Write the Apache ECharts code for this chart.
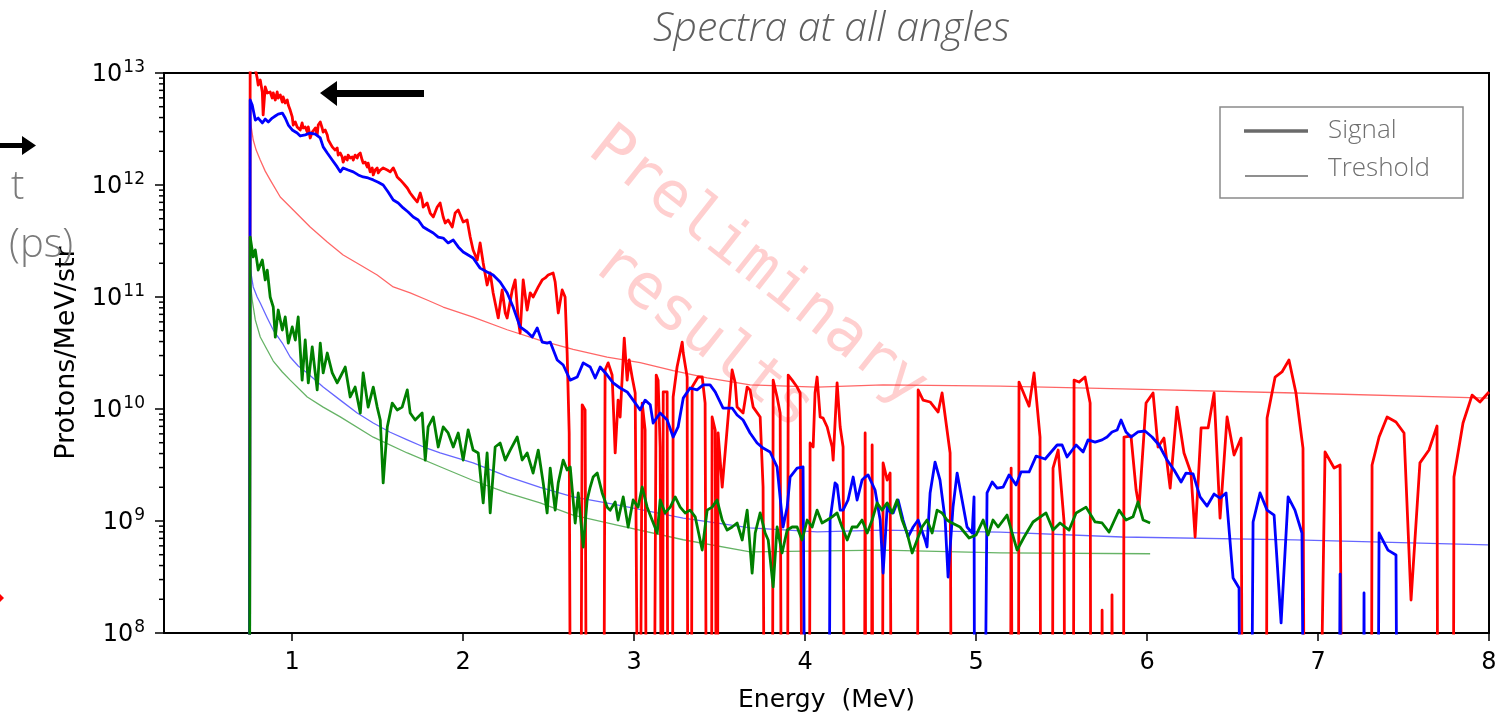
<!DOCTYPE html>
<html>
<head>
<meta charset="utf-8">
<script src="https://cdn.jsdelivr.net/npm/echarts@6/dist/echarts.min.js"></script>
<style>
  html, body { margin: 0; padding: 0; background: #fff; }
  #chart { width: 1498px; height: 716px; }
</style>
</head>
<body>
<div id="chart"></div>
<script>
// Empty bins sit far below the axis floor, so the trace drops out of the frame there.
const FLOOR = 1e5;

const xTickValues = [1, 2, 3, 4, 5, 6, 7, 8];
const yMin = 1e8, yMax = 1e13;
const yMinorMantissas = [2, 3, 4, 5, 6, 7, 8, 9];

// Energy (MeV), protons/MeV/str
const redSignal = [
  [0.749,FLOOR],[0.754,1.5e13],[0.778,1.2e13],[0.795,9.03e12],[0.801,7.81e12],[0.813,8.66e12],[0.825,6.77e12],[0.830,4.22e12],
  [0.842,7.5e12],[0.854,6.63e12],[0.871,6.77e12],[0.883,5.98e12],[0.889,6.63e12],[0.901,5.74e12],[0.912,6.77e12],[0.918,5.98e12],
  [0.930,6.36e12],[0.942,5.5e12],[0.947,6.11e12],[0.959,5.4e12],[0.971,5.74e12],[0.977,5.18e12],[0.988,4.67e12],[1.0,4.05e12],
  [1.006,3.43e12],[1.018,3.65e12],[1.029,3.3e12],[1.035,3.43e12],[1.047,3.1e12],[1.058,3.58e12],[1.064,3.23e12],[1.076,3.3e12],
  [1.088,2.97e12],[1.094,3.3e12],[1.105,2.63e12],[1.117,2.97e12],[1.123,2.91e12],[1.135,3.23e12],[1.146,2.8e12],[1.152,3.43e12],
  [1.164,3.65e12],[1.175,3.23e12],[1.181,2.97e12],[1.193,3.1e12],[1.205,2.8e12],[1.211,2.52e12],[1.222,2.42e12],[1.234,2.19e12],
  [1.240,2.28e12],[1.251,2.05e12],[1.263,2.14e12],[1.269,1.85e12],[1.281,1.93e12],[1.292,1.78e12],[1.298,1.6e12],[1.310,1.78e12],
  [1.322,1.67e12],[1.327,1.85e12],[1.339,1.74e12],[1.351,1.78e12],[1.357,1.67e12],[1.368,1.85e12],[1.380,1.74e12],[1.386,1.85e12],
  [1.398,1.93e12],[1.409,1.67e12],[1.415,1.57e12],[1.427,1.6e12],[1.439,1.45e12],[1.444,1.57e12],[1.456,1.31e12],[1.468,1.42e12],
  [1.474,1.23e12],[1.485,1.36e12],[1.497,1.42e12],[1.503,1.28e12],[1.515,1.36e12],[1.532,1.42e12],[1.556,1.36e12],[1.573,1.31e12],
  [1.591,1.42e12],[1.602,1.31e12],[1.614,1.18e12],[1.632,1.11e12],[1.649,1.04e12],[1.673,9.4e11],[1.690,8.48e11],[1.708,7.81e11],
  [1.731,7.05e11],[1.749,8.48e11],[1.760,7.35e11],[1.766,6.36e11],[1.789,6.91e11],[1.807,5.62e11],[1.825,5.18e11],[1.848,6.36e11],
  [1.865,6.91e11],[1.883,5.18e11],[1.895,4.58e11],[1.912,4.87e11],[1.936,4.22e11],[1.953,5.62e11],[1.971,5.98e11],[2.0,4.67e11],
  [2.023,4.87e11],[2.041,3.43e11],[2.058,2.63e11],[2.082,2.14e11],[2.099,3.04e11],[2.117,2.01e11],[2.140,1.28e11],[2.158,1.64e11],
  [2.175,1.09e11],[2.205,6.5e10],[2.228,1.155e11],[2.246,7.2e10],[2.257,6.5e10],[2.287,1.155e11],[2.304,1.42e11],[2.322,6.24e10],
  [2.333,4.77e10],[2.351,1.42e11],[2.374,7.65e10],[2.392,1.09e11],[2.409,1.0e11],[2.439,1.23e11],[2.462,1.42e11],[2.480,1.48e11],
  [2.497,1.57e11],[2.526,1.64e11],[2.538,1.36e11],[2.556,7.2e10],[2.579,1.155e11],[2.596,1.0e11],[2.608,3.16e10],[2.620,6.11e9],
  [2.632,FLOOR],[2.684,FLOOR],[2.696,1.09e10],[2.713,9.8e9],[2.725,FLOOR],[2.819,FLOOR],[2.830,2.23e10],[2.848,2.58e10],
  [2.871,2.01e10],[2.889,4.05e9],[2.906,1.2e10],[2.918,8.48e9],[2.942,4.3e10],[2.959,1.81e10],[2.971,2.74e10],[2.988,1.93e10],
  [3.006,1.39e10],[3.029,FLOOR],[3.047,1.13e10],[3.064,6.5e9],[3.076,FLOOR],[3.111,FLOOR],[3.129,2.01e10],[3.140,1.81e10],
  [3.152,4.58e9],[3.164,FLOOR],[3.170,1.42e10],[3.193,1.42e10],[3.199,FLOOR],[3.222,FLOOR],[3.228,1.28e10],[3.251,2.37e10],
  [3.281,3.96e10],[3.287,3.16e10],[3.310,1.93e10],[3.316,FLOOR],[3.333,FLOOR],[3.339,1.57e10],[3.374,1.93e10],[3.398,1.93e10],
  [3.415,1.13e10],[3.427,FLOOR],[3.450,FLOOR],[3.456,8.48e9],[3.474,6.5e9],[3.485,FLOOR],[3.491,6.11e9],[3.515,2.01e9],
  [3.573,2.23e10],[3.591,1.71e10],[3.602,1.04e10],[3.637,9.2e9],[3.661,1.57e10],[3.678,1.48e10],[3.696,1.04e10],[3.737,8.48e9],
  [3.754,2.01e9],[3.766,FLOOR],[3.807,FLOOR],[3.813,1.81e10],[3.836,1.28e10],[3.854,9.2e9],[3.865,FLOOR],[3.895,FLOOR],
  [3.901,2.01e10],[3.924,1.81e10],[3.953,1.57e10],[3.971,1.39e10],[3.988,FLOOR],[4.023,FLOOR],[4.029,4.97e9],[4.047,4.58e9],
  [4.058,1.39e10],[4.070,1.93e10],[4.088,8.48e9],[4.105,8.3e9],[4.129,6.91e9],[4.158,4.58e9],[4.164,3.5e9],[4.187,1.71e10],
  [4.205,6.91e9],[4.222,4.58e9],[4.234,FLOOR],[4.345,FLOOR],[4.351,6.11e9],[4.357,FLOOR],[4.386,FLOOR],[4.392,4.77e9],
  [4.398,FLOOR],[4.450,FLOOR],[4.456,3.3e9],[4.480,2.32e9],[4.497,2.68e9],[4.509,FLOOR],[4.655,FLOOR],[4.661,1.48e10],
  [4.690,1.2e10],[4.731,1.155e10],[4.778,9.4e9],[4.801,1.39e10],[4.848,4.05e9],[4.860,FLOOR],[5.199,FLOOR],[5.205,2.97e9],
  [5.216,FLOOR],[5.246,FLOOR],[5.251,1.74e10],[5.310,1.06e10],[5.339,2.1e10],[5.374,5.62e9],[5.380,FLOOR],[5.444,FLOOR],
  [5.450,2.97e9],[5.480,4.3e9],[5.515,9.6e8],[5.520,FLOOR],[5.567,FLOOR],[5.573,1.81e10],[5.602,1.74e10],[5.637,1.93e10],
  [5.667,1.13e10],[5.673,FLOOR],[5.731,FLOOR],[5.737,1.6e8],[5.743,FLOOR],[5.789,FLOOR],[5.795,2.19e8],[5.801,FLOOR],
  [5.860,FLOOR],[5.865,5.62e9],[5.906,5.74e9],[5.936,1.89e9],[5.953,1.33e9],[5.994,1.13e10],[6.035,1.39e10],[6.064,4.58e9],
  [6.099,5.5e9],[6.135,1.97e9],[6.175,1.04e10],[6.216,4.05e9],[6.257,2.68e9],[6.281,7.2e8],[6.316,6.77e9],[6.357,6.77e9],
  [6.392,1.39e10],[6.427,1.06e9],[6.468,8.48e9],[6.509,3.88e9],[6.550,5.5e9],[6.561,FLOOR],[6.696,FLOOR],[6.702,8.3e9],
  [6.749,1.93e10],[6.789,2.14e10],[6.830,2.74e10],[6.871,1.39e10],[6.912,4.48e9],[6.924,FLOOR],[6.994,FLOOR],[7.041,4.13e9],
  [7.094,2.97e9],[7.129,3.16e9],[7.146,FLOOR],[7.310,FLOOR],[7.316,3.16e9],[7.357,5.62e9],[7.404,8.48e9],[7.456,7.65e9],
  [7.503,6.11e9],[7.544,1.97e8],[7.596,3.3e9],[7.649,4.3e9],[7.696,7.05e9],[7.702,FLOOR],[7.789,FLOOR],[7.795,2.47e9],
  [7.848,7.5e9],[7.901,1.33e10],[7.947,1.155e10],[8.0,1.42e10]
];

const blueSignal = [
  [0.749,FLOOR],[0.754,5.74e12],[0.766,5.18e12],[0.784,3.8e12],[0.801,3.96e12],[0.825,3.58e12],[0.842,3.88e12],[0.860,3.65e12],
  [0.883,3.96e12],[0.901,4.13e12],[0.918,4.3e12],[0.942,4.39e12],[0.959,3.96e12],[0.977,3.43e12],[1.0,3.1e12],[1.029,2.91e12],
  [1.047,2.74e12],[1.076,2.8e12],[1.105,2.91e12],[1.135,2.85e12],[1.164,2.63e12],[1.181,2.19e12],[1.205,1.93e12],[1.234,1.67e12],
  [1.263,1.45e12],[1.281,1.31e12],[1.298,1.42e12],[1.327,1.36e12],[1.357,1.31e12],[1.386,1.23e12],[1.415,1.18e12],[1.444,1.155e12],
  [1.474,1.11e12],[1.503,1.06e12],[1.532,1.0e12],[1.561,8.66e11],[1.591,7.35e11],[1.620,6.91e11],[1.649,6.24e11],[1.678,5.74e11],
  [1.708,5.18e11],[1.737,4.87e11],[1.766,4.22e11],[1.795,3.96e11],[1.825,3.73e11],[1.854,3.43e11],[1.883,3.36e11],[1.912,3.04e11],
  [1.942,3.23e11],[1.971,2.8e11],[2.0,2.52e11],[2.029,2.37e11],[2.058,2.23e11],[2.099,1.81e11],[2.140,1.67e11],[2.175,1.57e11],
  [2.216,1.36e11],[2.257,1.09e11],[2.292,8.14e10],[2.333,5.4e10],[2.374,4.87e10],[2.404,4.39e10],[2.433,5.3e10],[2.462,3.96e10],
  [2.491,3.88e10],[2.509,3.96e10],[2.550,2.74e10],[2.585,2.47e10],[2.626,1.81e10],[2.667,1.93e10],[2.702,2.58e10],[2.743,2.37e10],
  [2.772,1.89e10],[2.801,2.37e10],[2.842,2.01e10],[2.877,1.71e10],[2.918,1.54e10],[2.959,1.42e10],[2.994,1.2e10],[3.035,9.8e9],
  [3.064,1.2e10],[3.094,1.09e10],[3.111,7.5e9],[3.152,9.2e9],[3.193,7.97e9],[3.228,5.62e9],[3.257,6.91e9],[3.287,1.25e10],
  [3.327,1.54e10],[3.368,1.48e10],[3.404,1.64e10],[3.444,1.64e10],[3.474,1.42e10],[3.520,1.02e10],[3.573,1.02e10],[3.602,8.84e9],
  [3.637,7.97e9],[3.678,6.11e9],[3.719,4.97e9],[3.754,4.48e9],[3.795,4.13e9],[3.836,3.04e9],[3.871,8.84e8],[3.895,1.33e9],
  [3.912,2.47e9],[3.953,2.97e9],[3.988,3.04e9],[4.006,FLOOR],[4.135,FLOOR],[4.146,1.02e9],[4.175,2.19e9],[4.187,2.1e9],
  [4.205,1.25e9],[4.222,1.25e9],[4.251,1.54e9],[4.281,2.47e9],[4.304,1.54e9],[4.333,2.32e9],[4.351,2.47e9],[4.368,2.58e9],
  [4.409,1.89e9],[4.439,1.02e9],[4.456,3.43e8],[4.480,1.33e9],[4.497,1.2e9],[4.515,1.18e9],[4.544,1.54e9],[4.573,1.02e9],
  [4.602,7.2e8],[4.632,8.84e8],[4.661,1.02e9],[4.702,6.77e8],[4.713,5.86e8],[4.731,1.78e9],[4.760,3.36e9],[4.789,2.32e9],
  [4.819,1.02e9],[4.836,3.16e8],[4.865,1.33e9],[4.889,2.68e9],[4.918,1.54e9],[4.947,8.84e8],[4.977,7.81e8],[4.988,1.64e9],
  [4.994,FLOOR],[5.041,FLOOR],[5.064,1.78e9],[5.094,2.23e9],[5.123,1.97e9],[5.158,2.01e9],[5.193,2.58e9],[5.234,2.1e9],
  [5.263,2.74e9],[5.310,2.74e9],[5.351,3.8e9],[5.404,3.58e9],[5.474,4.77e9],[5.503,4.77e9],[5.532,3.73e9],[5.585,4.77e9],
  [5.626,4.13e9],[5.655,5.3e9],[5.696,5.07e9],[5.737,5.3e9],[5.766,5.62e9],[5.795,6.24e9],[5.825,6.5e9],[5.848,7.97e9],
  [5.877,6.24e9],[5.906,5.62e9],[5.947,6.24e9],[5.988,6.36e9],[6.029,5.62e9],[6.070,4.77e9],[6.117,3.5e9],[6.158,2.85e9],
  [6.199,2.23e9],[6.228,2.68e9],[6.269,2.63e9],[6.310,1.64e9],[6.351,1.36e9],[6.392,1.74e9],[6.427,1.6e9],[6.462,1.78e9],
  [6.503,3.1e8],[6.538,2.52e8],[6.550,FLOOR],[6.602,FLOOR],[6.620,9.8e8],[6.661,1.78e9],[6.702,1.25e9],[6.743,1.13e9],
  [6.784,1.23e8],[6.825,1.64e9],[6.865,1.25e9],[6.906,7.81e8],[6.924,FLOOR],[7.117,FLOOR],[7.129,3.36e8],[7.140,FLOOR],
  [7.263,FLOOR],[7.269,2.28e8],[7.275,FLOOR],[7.345,FLOOR],[7.357,7.81e8],[7.409,5.5e8],[7.456,4.97e8],[7.468,FLOOR],
  [7.994,FLOOR]
];

const greenSignal = [
  [0.749,FLOOR],[0.754,3.43e11],[0.772,2.28e11],[0.784,2.63e11],[0.801,1.74e11],[0.825,2.14e11],[0.842,1.42e11],[0.854,1.74e11],
  [0.871,1.0e11],[0.889,8.14e10],[0.901,4.39e10],[0.918,7.65e10],[0.942,5.07e10],[0.959,6.63e10],[0.977,3.88e10],[1.0,5.4e10],
  [1.018,4.13e10],[1.035,6.63e10],[1.058,1.81e10],[1.076,4.13e10],[1.094,1.71e10],[1.117,3.58e10],[1.146,1.48e10],[1.164,3.88e10],
  [1.181,2.1e10],[1.205,3.16e10],[1.234,2.1e10],[1.263,1.71e10],[1.281,1.93e10],[1.310,2.37e10],[1.339,1.28e10],[1.368,1.57e10],
  [1.398,9.2e9],[1.415,2.1e10],[1.444,1.04e10],[1.474,1.57e10],[1.497,1.04e10],[1.515,7.97e9],[1.532,2.19e9],[1.556,6.91e9],
  [1.585,1.13e10],[1.614,9.8e9],[1.643,1.04e10],[1.673,1.48e10],[1.690,9.2e9],[1.719,7.97e9],[1.760,9.2e9],[1.778,3.5e9],
  [1.795,6.91e9],[1.825,8.48e9],[1.854,4.58e9],[1.883,6.91e9],[1.912,6.11e9],[1.942,4.58e9],[1.971,6.11e9],[2.0,3.5e9],
  [2.029,6.5e9],[2.058,4.3e9],[2.088,4.05e9],[2.117,1.45e9],[2.140,4.05e9],[2.158,1.18e9],[2.187,4.58e9],[2.216,4.97e9],
  [2.246,3.5e9],[2.275,4.3e9],[2.316,5.62e9],[2.345,3.5e9],[2.374,4.05e9],[2.409,2.68e9],[2.439,4.3e9],[2.468,2.19e9],
  [2.491,1.18e9],[2.509,2.97e9],[2.538,1.25e9],[2.556,2.19e9],[2.585,3.5e9],[2.608,2.85e9],[2.626,3.04e9],[2.655,9.6e8],
  [2.673,1.78e9],[2.702,5.86e8],[2.725,1.54e9],[2.743,2.01e9],[2.760,2.47e9],[2.784,2.68e9],[2.813,1.78e9],[2.842,1.33e9],
  [2.860,1.25e9],[2.889,1.48e9],[2.906,1.02e9],[2.936,1.64e9],[2.965,8.84e8],[2.994,1.54e9],[3.023,1.33e9],[3.047,2.01e9],
  [3.076,1.33e9],[3.105,1.02e9],[3.135,7.81e8],[3.152,1.54e9],[3.181,1.18e9],[3.211,1.33e9],[3.240,1.64e9],[3.269,1.33e9],
  [3.298,1.18e9],[3.327,1.25e9],[3.357,1.09e9],[3.398,5.5e8],[3.427,1.25e9],[3.456,1.33e9],[3.485,1.54e9],[3.515,1.02e9],
  [3.544,8.3e8],[3.573,8.84e8],[3.602,9.6e8],[3.632,6.77e8],[3.661,1.25e9],[3.690,3.43e8],[3.708,7.81e8],[3.737,1.18e9],
  [3.766,7.81e8],[3.784,6.77e8],[3.813,2.58e8],[3.836,8.84e8],[3.865,5.18e8],[3.895,8.3e8],[3.924,8.84e8],[3.953,8.84e8],
  [3.982,6.77e8],[4.012,1.02e9],[4.041,8.84e8],[4.070,1.25e9],[4.099,9.6e8],[4.129,1.02e9],[4.158,1.09e9],[4.187,1.18e9],
  [4.216,8.84e8],[4.246,6.77e8],[4.275,8.84e8],[4.304,8.84e8],[4.333,1.02e9],[4.363,7.81e8],[4.392,1.02e9],[4.421,1.45e9],
  [4.450,1.25e9],[4.480,1.45e9],[4.509,1.18e9],[4.538,1.54e9],[4.567,1.02e9],[4.596,7.81e8],[4.626,5.18e8],[4.655,6.77e8],
  [4.684,8.84e8],[4.713,1.02e9],[4.743,7.81e8],[4.772,1.25e9],[4.801,1.18e9],[4.830,1.02e9],[4.848,9.8e8],[4.906,8.84e8],
  [4.959,7.05e8],[5.0,7.5e8],[5.041,1.02e9],[5.070,7.5e8],[5.099,1.02e9],[5.129,8.84e8],[5.181,1.13e9],[5.211,7.81e8],
  [5.240,5.5e8],[5.281,7.2e8],[5.333,9.8e8],[5.409,1.18e9],[5.450,8.3e8],[5.491,9.6e8],[5.544,8.3e8],[5.585,1.18e9],
  [5.643,1.33e9],[5.696,9.8e8],[5.737,9.6e8],[5.778,7.97e8],[5.836,1.25e9],[5.877,1.02e9],[5.918,1.09e9],[5.947,1.48e9],
  [5.977,1.02e9],[6.018,9.6e8]
];

const redThreshold = [
  [0.754,3.8e12],[0.772,2.52e12],[0.789,2.05e12],[0.813,1.67e12],[0.842,1.33e12],[0.871,1.11e12],[0.930,7.81e11],[1.006,5.98e11],
  [1.105,4.22e11],[1.205,3.1e11],[1.298,2.37e11],[1.398,1.93e11],[1.497,1.57e11],[1.591,1.23e11],[1.690,1.09e11],[1.789,9.4e10],
  [1.883,8.14e10],[2.058,6.6e10],[2.257,5.1e10],[2.45,4.1e10],[2.643,3.4e10],[2.842,2.9e10],[3.035,2.6e10],[3.228,2.2e10],
  [3.427,1.9e10],[3.678,1.64e10],[4.07,1.57e10],[4.456,1.64e10],[5.14,1.6e10],[5.854,1.51e10],[6.865,1.39e10],[7.994,1.25e10]
];

const blueThreshold = [
  [0.754,1.8e11],[0.772,1.23e11],[0.795,1.0e11],[0.813,8.84e10],[0.854,6.5e10],[0.889,5.07e10],[0.942,3.88e10],[0.988,2.91e10],
  [1.035,2.42e10],[1.088,2.1e10],[1.181,1.57e10],[1.281,1.2e10],[1.380,9.2e9],[1.474,7.5e9],[1.573,6.2e9],[1.673,5.3e9],
  [1.766,4.6e9],[1.865,4.05e9],[2.058,3.3e9],[2.257,2.5e9],[2.45,2.0e9],[2.643,1.64e9],[2.9,1.39e9],[3.287,1.06e9],
  [3.678,8.7e8],[4.07,8.0e8],[4.456,8.3e8],[5.14,7.97e8],[5.854,7.2e8],[6.865,6.77e8],[7.994,6.11e8]
];

const greenThreshold = [
  [0.754,1.4e11],[0.766,9.4e10],[0.784,6.24e10],[0.813,4.39e10],[0.854,3.36e10],[0.889,2.68e10],[0.942,2.14e10],[0.988,1.81e10],
  [1.088,1.28e10],[1.181,1.04e10],[1.281,8.5e9],[1.474,5.6e9],[1.673,4.05e9],[1.865,3.05e9],[2.058,2.3e9],[2.257,1.78e9],
  [2.45,1.45e9],[2.643,1.13e9],[2.9,9.2e8],[3.287,6.8e8],[3.678,5.3e8],[4.456,5.5e8],[5.14,5.2e8],[6.018,5.1e8]
];

const TICK_FONT = 'DejaVu Sans';
const GRAY_FONT = '"Open Sans", "Noto Sans", sans-serif';

function lineSeries(name, data, color, width, opacity, z) {
  return {
    name, type: 'line', data, z,
    showSymbol: false, symbol: 'none', animation: false, clip: true,
    lineStyle: { color, width, opacity, join: 'round', cap: 'butt' },
    emphasis: { disabled: true }
  };
}

const chart = echarts.init(document.getElementById('chart'), null, { renderer: 'canvas' });

chart.setOption({
  animation: false,
  backgroundColor: '#ffffff',
  title: {
    text: 'Spectra at all angles',
    left: 648, top: 4,
    textStyle: { fontFamily: GRAY_FONT, fontStyle: 'italic', fontWeight: 300, fontSize: 41, color: '#5f5f5f' }
  },
  grid: {
    left: 164, top: 73, width: 1325, height: 560,
    outerBoundsMode: 'none', containLabel: false,
    show: true, borderColor: '#000', borderWidth: 2, backgroundColor: 'transparent'
  },
  xAxis: {
    type: 'value', min: 0.25, max: 8,
    name: 'Energy  (MeV)', nameLocation: 'middle', nameGap: 55,
    nameTextStyle: { fontFamily: TICK_FONT, fontSize: 25, color: '#000' },
    axisLine: { show: true, onZero: false, lineStyle: { color: '#000', width: 2 } },
    axisTick: { show: true, customValues: xTickValues, length: 8, lineStyle: { color: '#000', width: 1.5 } },
    axisLabel: { customValues: xTickValues, fontFamily: TICK_FONT, fontSize: 24, color: '#000', margin: 18 },
    splitLine: { show: false }
  },
  yAxis: {
    type: 'log', logBase: 10, min: yMin, max: yMax,
    name: 'Protons/MeV/str', nameLocation: 'middle', nameGap: 83, nameRotate: 90,
    nameTextStyle: { fontFamily: TICK_FONT, fontSize: 27, color: '#000' },
    axisLine: { show: true, lineStyle: { color: '#000', width: 2 } },
    axisTick: { show: true, length: 9, lineStyle: { color: '#000', width: 1.5 } },
    minorTick: { show: false },
    axisLabel: {
      margin: 19,
      formatter: v => '{b|10}{s|' + Math.round(Math.log10(v)) + '}',
      rich: {
        b: { fontFamily: TICK_FONT, fontSize: 24, color: '#000', verticalAlign: 'bottom' },
        s: { fontFamily: TICK_FONT, fontSize: 17, color: '#000', verticalAlign: 'bottom', padding: [0, 0, 11, 1] }
      }
    },
    splitLine: { show: false }
  },
  series: [
    lineSeries('Treshold red', redThreshold, '#ff0000', 1.3, 0.6, 2),
    lineSeries('Treshold blue', blueThreshold, '#0000ff', 1.3, 0.6, 2),
    lineSeries('Treshold green', greenThreshold, '#008000', 1.3, 0.6, 2),
    lineSeries('Signal red', redSignal, '#ff0000', 2.8, 1, 3),
    lineSeries('Signal blue', blueSignal, '#0000ff', 2.8, 1, 4),
    lineSeries('Signal green', greenSignal, '#008000', 2.8, 1, 5)
  ]
});

// Minor ticks at 2..9 x 10^n, placed through the y axis scale.
const minorTicks = [];
for (let e = 8; e < 13; e++) {
  for (const m of yMinorMantissas) {
    const y = chart.convertToPixel({ yAxisIndex: 0 }, m * Math.pow(10, e));
    const x = chart.convertToPixel({ xAxisIndex: 0 }, 0.25);
    minorTicks.push({
      type: 'line', silent: true, z: 10,
      shape: { x1: x - 5, y1: y, x2: x, y2: y },
      style: { stroke: '#000', lineWidth: 1.5 }
    });
  }
}

const grayText = '#7a7a7a';
chart.setOption({
  graphic: [
    ...minorTicks,
    {
      type: 'text', silent: true, z: 1,
      x: 730, y: 302, rotation: -0.668,
      style: {
        text: 'Preliminary\nresults', align: 'center', verticalAlign: 'middle',
        font: '62px "DejaVu Sans Mono", monospace', lineHeight: 88,
        fill: 'rgba(255,0,0,0.19)'
      }
    },
    {
      type: 'polygon', silent: true, z: 20,
      shape: { points: [[320,93],[337,81],[337,90],[424,90],[424,97],[337,97],[337,106]] },
      style: { fill: '#000' }
    },
    {
      type: 'polygon', silent: true, z: 20,
      shape: { points: [[0,143],[22,143],[22,136],[36,145.5],[22,155],[22,148],[0,148]] },
      style: { fill: '#000' }
    },
    {
      type: 'polygon', silent: true, z: 20,
      shape: { points: [[0,594],[4,598],[0,602]] },
      style: { fill: '#ff0000' }
    },
    {
      type: 'text', silent: true, z: 20, x: 11, y: 188,
      style: { text: 't', font: '300 40px ' + GRAY_FONT, fill: grayText, verticalAlign: 'middle' }
    },
    {
      type: 'text', silent: true, z: 20, x: 9, y: 246,
      style: { text: '(ps)', font: '300 40px ' + GRAY_FONT, fill: grayText, verticalAlign: 'middle' }
    },
    {
      type: 'rect', silent: true, z: 20,
      shape: { x: 1220, y: 107, width: 243, height: 91 },
      style: { fill: '#fff', stroke: '#8a8a8a', lineWidth: 1.5 }
    },
    {
      type: 'line', silent: true, z: 21,
      shape: { x1: 1244, y1: 131, x2: 1308, y2: 131 },
      style: { stroke: '#6a6a6a', lineWidth: 3.5 }
    },
    {
      type: 'line', silent: true, z: 21,
      shape: { x1: 1245, y1: 176, x2: 1308, y2: 176 },
      style: { stroke: '#6a6a6a', lineWidth: 1.5 }
    },
    {
      type: 'text', silent: true, z: 21, x: 1328, y: 131,
      style: { text: 'Signal', font: '300 26px ' + GRAY_FONT, fill: '#6f6f6f', verticalAlign: 'middle' }
    },
    {
      type: 'text', silent: true, z: 21, x: 1328, y: 169,
      style: { text: 'Treshold', font: '300 26px ' + GRAY_FONT, fill: '#6f6f6f', verticalAlign: 'middle' }
    }
  ]
});
</script>
</body>
</html>
